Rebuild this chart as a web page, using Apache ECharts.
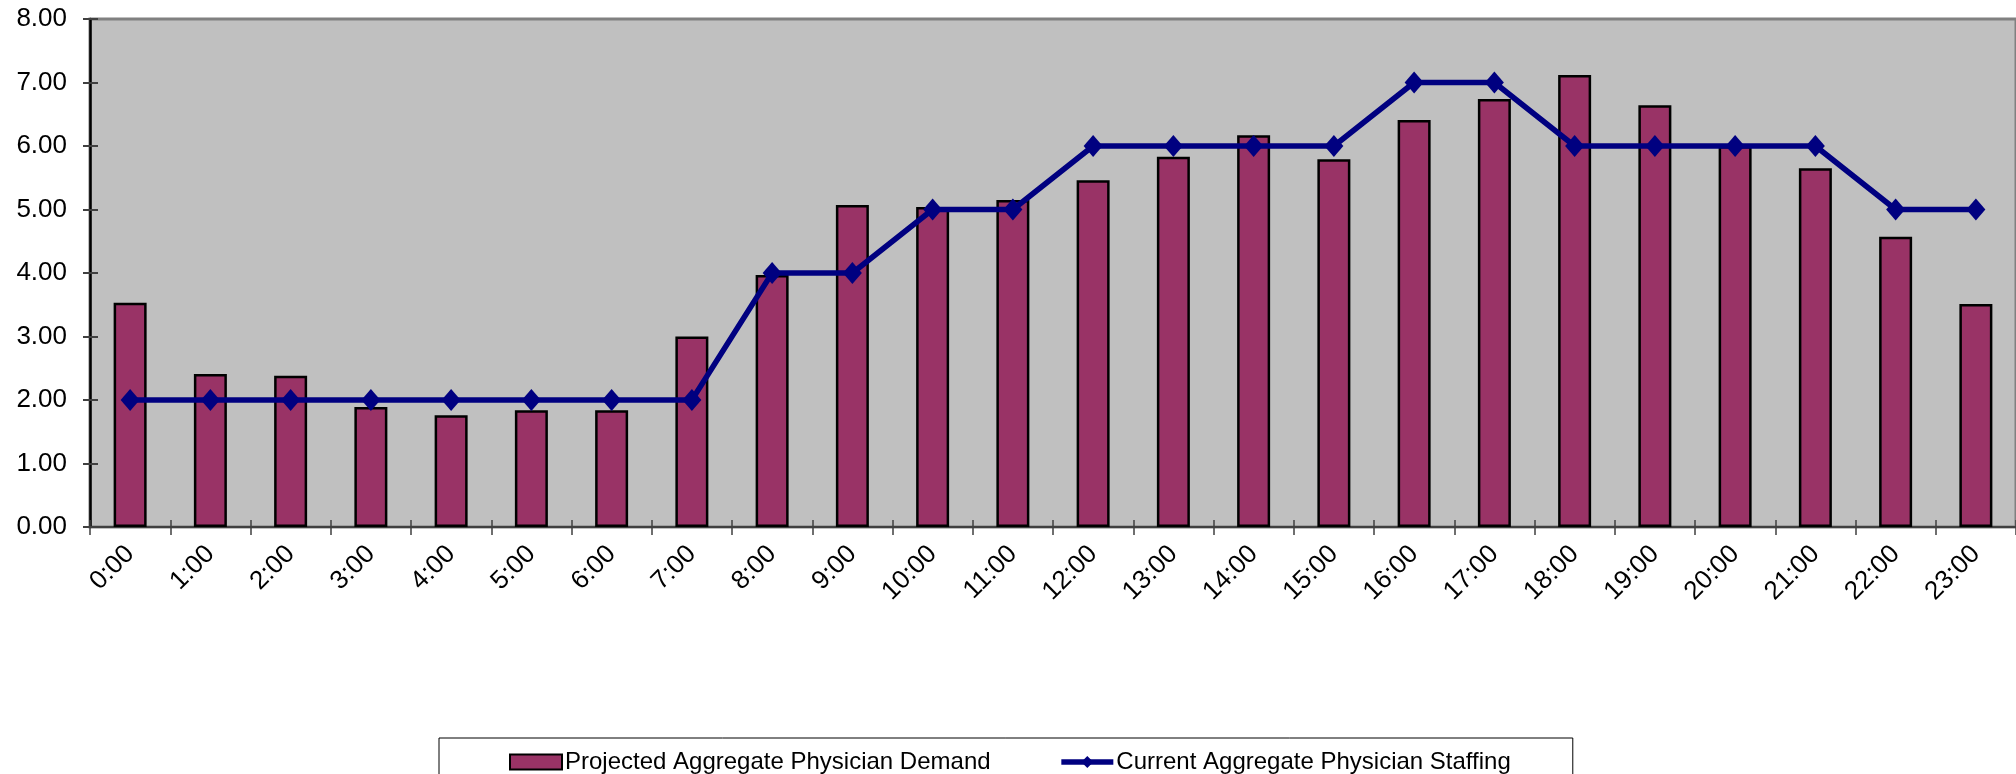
<!DOCTYPE html>
<html>
<head>
<meta charset="utf-8">
<script src="https://cdn.jsdelivr.net/npm/echarts@6/dist/echarts.min.js"></script>
<style>
  html, body { margin: 0; padding: 0; background: #ffffff; }
  #chart { width: 2016px; height: 774px; }
</style>
</head>
<body>
<div id="chart"></div>
<script>
// Hour-of-day categories
const hours = ['0:00','1:00','2:00','3:00','4:00','5:00','6:00','7:00','8:00','9:00','10:00','11:00',
               '12:00','13:00','14:00','15:00','16:00','17:00','18:00','19:00','20:00','21:00','22:00','23:00'];

// Projected aggregate physician demand per hour
const demand = [3.53, 2.41, 2.38, 1.89, 1.76, 1.84, 1.84, 3.00, 3.97, 5.07, 5.04, 5.15,
                5.46, 5.83, 6.17, 5.79, 6.41, 6.74, 7.12, 6.64, 6.00, 5.65, 4.57, 3.51];

// Current aggregate physician staffing per hour
const staffing = [2, 2, 2, 2, 2, 2, 2, 2, 4, 4, 5, 5,
                  6, 6, 6, 6, 7, 7, 6, 6, 6, 6, 5, 5];

const seriesNames = ['Projected Aggregate Physician Demand', 'Current Aggregate Physician Staffing'];

const FONT = '"Liberation Sans", Arial, sans-serif';

const chart = echarts.init(document.getElementById('chart'), null, { renderer: 'canvas' });

chart.setOption({
  animation: false,
  backgroundColor: '#ffffff',
  textStyle: { fontFamily: FONT, color: '#000000' },
  grid: {
    left: 90, top: 19, width: 1934, height: 508,
    show: true, backgroundColor: '#c0c0c0',
    borderColor: '#808080', borderWidth: 3
  },
  legend: {
    left: 439, top: 738,
    padding: [12, 62, 40, 70],
    borderColor: '#000000', borderWidth: 1,
    backgroundColor: '#ffffff',
    itemWidth: 52, itemHeight: 15, itemGap: 68,
    textStyle: { fontFamily: FONT, fontSize: 24, color: '#000000', padding: [0, 0, 0, -2] },
    data: [
      { name: seriesNames[0], icon: 'rect', itemStyle: { color: '#993366', borderColor: '#000000', borderWidth: 2 } },
      { name: seriesNames[1], lineStyle: { color: '#000080', width: 5.5 } }
    ]
  },
  xAxis: [
    {
      type: 'category', data: hours, boundaryGap: true,
      axisLine: { show: true, lineStyle: { color: '#404040', width: 2 } },
      axisTick: { show: true, inside: false, length: 8, lineStyle: { color: '#404040', width: 1.5 } },
      axisLabel: { rotate: 45, margin: 23, fontSize: 26, fontFamily: FONT, color: '#000000', interval: 0 },
      splitLine: { show: false }
    },
    {
      // inward half of the crossing tick marks
      type: 'category', data: hours, position: 'bottom', gridIndex: 0, boundaryGap: true,
      axisLine: { show: false },
      axisTick: { show: true, inside: true, length: 7, lineStyle: { color: '#404040', width: 1.5 } },
      axisLabel: { show: false },
      splitLine: { show: false }
    }
  ],
  yAxis: [
    {
      type: 'value', min: 0, max: 8, interval: 1,
      axisLine: { show: true, lineStyle: { color: '#000000', width: 2.5 } },
      axisTick: { show: true, inside: false, length: 7, lineStyle: { color: '#404040', width: 2 } },
      axisLabel: { margin: 23, fontSize: 26, fontFamily: FONT, color: '#000000',
                   formatter: v => v.toFixed(2) },
      splitLine: { show: false }
    },
    {
      // inward half of the crossing tick marks
      type: 'value', min: 0, max: 8, interval: 1, position: 'left',
      axisLine: { show: false },
      axisTick: { show: true, inside: true, length: 8, lineStyle: { color: '#404040', width: 2 } },
      axisLabel: { show: false },
      splitLine: { show: false }
    }
  ],
  series: [
    {
      name: seriesNames[0], type: 'bar', data: demand,
      barWidth: 33,
      itemStyle: { color: '#993366', borderColor: '#000000', borderWidth: 2.5 },
      z: 2
    },
    {
      name: seriesNames[1], type: 'line', data: staffing,
      symbol: 'diamond', symbolSize: [19, 22], showAllSymbol: true,
      lineStyle: { color: '#000080', width: 5.5 },
      itemStyle: { color: '#000080' },
      z: 3
    }
  ]
});
</script>
</body>
</html>
